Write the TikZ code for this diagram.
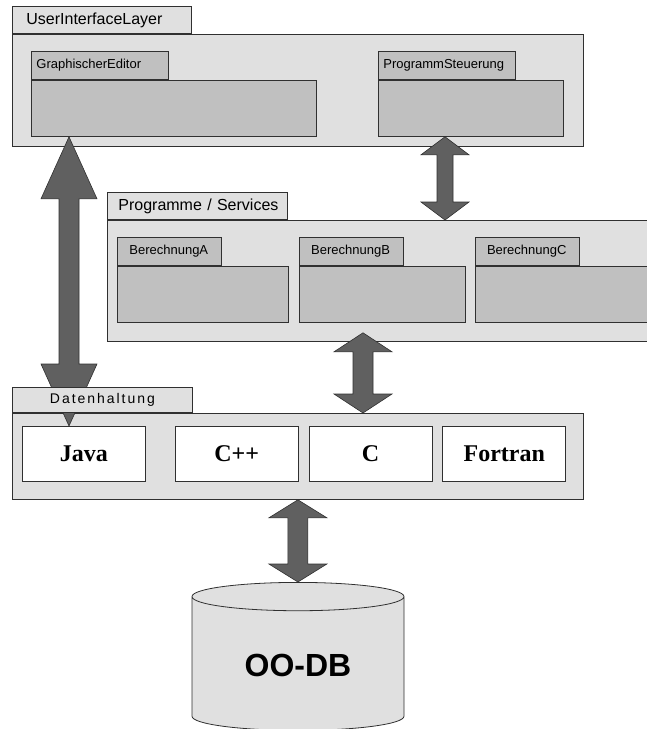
\documentclass[tikz,border=0pt]{standalone}
\usepackage{fontspec}
\setmainfont{Liberation Sans}
\newfontfamily\langfont{Liberation Serif}
\usetikzlibrary{positioning,shapes.geometric,calc}

\definecolor{pkggray}{HTML}{E0E0E0}
\definecolor{boxgray}{HTML}{C0C0C0}
\definecolor{arrowgray}{HTML}{606060}
\definecolor{linegray}{HTML}{303030}

\begin{document}
\begin{tikzpicture}[x=1pt, y=-1pt,
    pkg/.style={draw=linegray, fill=pkggray, line width=0.8pt, inner sep=0pt, anchor=north west},
    box/.style={draw=linegray, fill=boxgray, line width=0.8pt, inner sep=0pt, anchor=north west},
    bigtab/.style={draw=linegray, fill=pkggray, line width=0.8pt, anchor=south west, align=left,
                   minimum height=27pt, inner ysep=0pt, font=\fontsize{16}{19}\selectfont},
    smalltab/.style={draw=linegray, fill=boxgray, line width=0.8pt, anchor=south west, align=left,
                   minimum height=28pt, inner ysep=0pt, font=\fontsize{13}{16}\selectfont},
    lang/.style={draw=linegray, fill=white, line width=0.8pt, inner sep=0pt, minimum width=123pt,
                 minimum height=55pt, font=\langfont\bfseries\fontsize{24}{28}\selectfont},
    bigarrow/.style n args={3}{draw=linegray, fill=arrowgray, line width=0.6pt,
        to path={let \p1=(\tikztostart), \p2=(\tikztotarget) in
          (\x1,\y1) -- (\x1+#1,\y1-#3) -- (\x1+#2,\y1-#3) -- (\x1+#2,\y2+#3) -- (\x1+#1,\y2+#3)
          -- (\x1,\y2) -- (\x1-#1,\y2+#3) -- (\x1-#2,\y2+#3) -- (\x1-#2,\y1-#3) -- (\x1-#1,\y1-#3) -- cycle}}]
  \useasboundingbox (0,0) rectangle (646,729);

  % user interface layer
  \node[pkg, minimum width=571pt, minimum height=112pt] (ui) at (12,34) {};
  \node[bigtab, inner xsep=14pt, text width=151pt] (uitab) at (ui.north west) {UserInterfaceLayer};
  \node[box, minimum width=285pt, minimum height=56pt] (gebody) at (31,80) {};
  \node[smalltab, inner xsep=5pt, text width=127pt] (getab) at (gebody.north west) {GraphischerEditor};
  \node[box, minimum width=185pt, minimum height=56pt] (psbody) at (378,80) {};
  \node[smalltab, inner xsep=5pt, text width=127pt] (pstab) at (psbody.north west) {ProgrammSteuerung};

  % programme / services
  \node[pkg, minimum width=553pt, minimum height=121pt] (services) at (107,220) {};
  \node[bigtab, inner xsep=11pt, text width=158pt] (servtab) at (services.north west) {\mbox{Programme / Services}};
  \node[box, minimum width=171pt, minimum height=56pt] (berA) at (117,266) {};
  \node[box, minimum width=166pt, minimum height=56pt] (berB) [right=10pt of berA] {};
  \node[box, minimum width=190pt, minimum height=56pt] (berC) [right=9pt of berB] {};
  \node[smalltab, inner xsep=12pt, text width=80pt] (berAtab) at (berA.north west) {BerechnungA};
  \node[smalltab, inner xsep=12pt, text width=80pt] (berBtab) at (berB.north west) {BerechnungB};
  \node[smalltab, inner xsep=12pt, text width=80pt] (berCtab) at (berC.north west) {BerechnungC};

  % datenhaltung
  \node[pkg, minimum width=571pt, minimum height=86pt] (data) at (12,413) {};
  \node[lang, anchor=north west] (java) at (22,426) {Java};
  \node[lang] (cpp) [right=29pt of java] {C++};
  \node[lang] (c) [right=10pt of cpp] {C};
  \node[lang] (fortran) [right=10pt of c] {Fortran};

  % datenbank
  \node[cylinder, shape border rotate=90, draw=linegray, fill=pkggray, line width=0.8pt,
        minimum width=212pt, minimum height=148pt, aspect=0.25, anchor=north,
        font=\bfseries\fontsize{32}{36}\selectfont] (db) at (298,582) {OO-DB};

  \path
    ([xshift=38pt]gebody.south west) edge[bigarrow={28pt}{10pt}{62pt}] (java.north)
    ([xshift=67pt]psbody.south west) edge[bigarrow={24pt}{8pt}{18pt}] (services.north)
    ([xshift=256pt,yshift=9pt]services.south west) edge[bigarrow={29pt}{10pt}{19pt}] (data.north)
    (data.south) edge[bigarrow={29pt}{10pt}{18pt}] (db.north)
    ;

  \node[bigtab, fill=pkggray, minimum height=25pt, minimum width=180pt, inner xsep=0pt, align=center,
        font=\fontsize{14}{17}\selectfont\addfontfeature{LetterSpace=14}] (datatab) at (data.north west) {Datenhaltung};
\end{tikzpicture}
\end{document}
